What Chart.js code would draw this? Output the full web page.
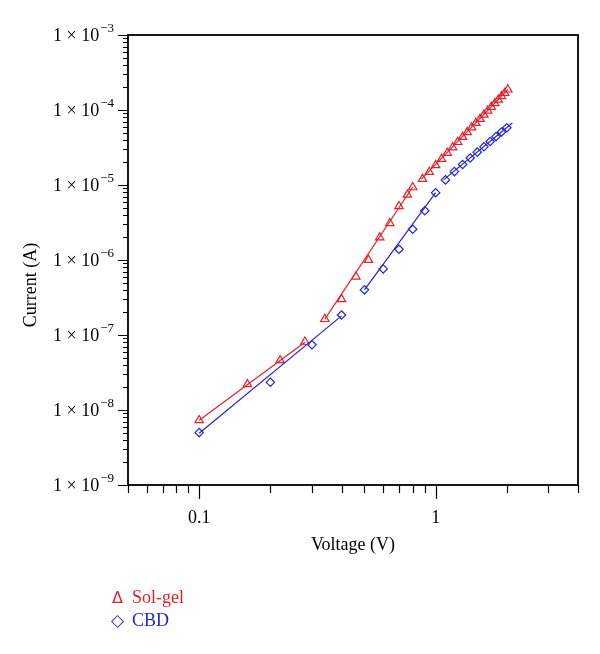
<!DOCTYPE html>
<html>
<head>
<meta charset="utf-8">
<script src="https://cdn.jsdelivr.net/npm/chart.js@4/dist/chart.umd.min.js"></script>
<style>
  html, body { margin: 0; padding: 0; background: #fff; }
  #wrap { position: relative; width: 600px; height: 654px; }
  canvas { position: absolute; left: 0; top: 0; }
  .leg { position: absolute; font-family: "Liberation Serif", "DejaVu Serif", serif; font-size: 18px; line-height: 20px; white-space: nowrap; }
  .leg .mk { display: inline-block; width: 21px; text-align: center; margin-right: 4px; }
</style>
</head>
<body>
<div id="wrap">
  <canvas id="c" width="600" height="654"></canvas>
  <div class="leg" style="left:107px; top:587px; color:#e6202a;"><span class="mk" style="font-family:'DejaVu Sans';font-size:16px;">Δ</span>Sol-gel</div>
  <div class="leg" style="left:107px; top:610px; color:#2424d6;"><span class="mk" style="font-family:'DejaVu Sans';font-size:17px;font-weight:bold;">◇</span>CBD</div>
</div>
<script>
// ---- Data ----
const solgelVoltage = [0.10, 0.16, 0.22, 0.28, 0.34, 0.40, 0.46, 0.52, 0.58, 0.64, 0.70, 0.76, 0.80,
  0.88, 0.94, 1.00, 1.06, 1.12, 1.18, 1.24, 1.30, 1.36, 1.42, 1.48, 1.54, 1.60, 1.66, 1.72, 1.78, 1.84, 1.90, 1.96, 2.02];
const solgelCurrent = [7.3e-9, 2.2e-8, 4.6e-8, 8.1e-8, 1.63e-7, 3.0e-7, 6.0e-7, 1.0e-6, 2.0e-6, 3.1e-6, 5.2e-6, 7.4e-6, 9.3e-6,
  1.2e-5, 1.49e-5, 1.83e-5, 2.22e-5, 2.67e-5, 3.17e-5, 3.73e-5, 4.36e-5, 5.06e-5, 5.84e-5, 6.7e-5, 7.6e-5, 8.65e-5, 9.8e-5, 1.10e-4, 1.23e-4, 1.37e-4, 1.53e-4, 1.69e-4, 1.87e-4];

const cbdVoltage = [0.1, 0.2, 0.3, 0.4, 0.5, 0.6, 0.7, 0.8, 0.9, 1.0, 1.1, 1.2, 1.3, 1.4, 1.5, 1.6, 1.7, 1.8, 1.9, 2.0];
const cbdCurrent = [5.0e-9, 2.34e-8, 7.4e-8, 1.85e-7, 4.0e-7, 7.6e-7, 1.39e-6, 2.57e-6, 4.54e-6, 7.9e-6,
  1.17e-5, 1.51e-5, 1.88e-5, 2.29e-5, 2.74e-5, 3.23e-5, 3.8e-5, 4.42e-5, 5.09e-5, 5.8e-5];

// Fit line segments (start/end voltage and current)
const solgelFitV = [[0.10, 0.28], [0.34, 0.80], [0.87, 2.02]];
const solgelFitI = [[7.3e-9, 8.0e-8], [1.63e-7, 9.4e-6], [1.2e-5, 1.87e-4]];
const cbdFitV = [[0.10, 0.40], [0.50, 1.00], [1.08, 2.11]];
const cbdFitI = [[4.9e-9, 1.8e-7], [4.0e-7, 7.9e-6], [1.17e-5, 6.7e-5]];

// Axis ticks / labels
const xMajorTicks = [0.1, 1];
const xTickLabels = ['0.1', '1'];
const xMinorTicks = [0.05, 0.06, 0.07, 0.08, 0.09, 0.2, 0.3, 0.4, 0.5, 0.6, 0.7, 0.8, 0.9, 2, 3, 4];
const yMajorTicks = [1e-3, 1e-4, 1e-5, 1e-6, 1e-7, 1e-8, 1e-9];
const yTickExponents = ['−3', '−4', '−5', '−6', '−7', '−8', '−9'];
const yMinorMantissas = [2, 3, 4, 5, 6, 7, 8, 9];
const xTitle = 'Voltage (V)';
const yTitle = 'Current (A)';

const RED = '#e6202a';
const BLUE = '#2424d6';
const FONT = '"Liberation Serif", "DejaVu Serif", serif';

function pts(xs, ys) { return xs.map((v, i) => ({ x: v, y: ys[i] })); }

const datasets = [];
solgelFitV.forEach((seg, i) => datasets.push({
  data: pts(seg, solgelFitI[i]), showLine: true, borderColor: RED, borderWidth: 1.2, pointRadius: 0
}));
cbdFitV.forEach((seg, i) => datasets.push({
  data: pts(seg, cbdFitI[i]), showLine: true, borderColor: BLUE, borderWidth: 1.2, pointRadius: 0
}));
datasets.push({
  label: 'Sol-gel', data: pts(solgelVoltage, solgelCurrent), showLine: false,
  pointStyle: 'triangle', pointRadius: 4.8, borderColor: RED, backgroundColor: 'rgba(0,0,0,0)', pointBorderWidth: 1.2
});
datasets.push({
  label: 'CBD', data: pts(cbdVoltage, cbdCurrent), showLine: false,
  pointStyle: 'rectRot', pointRadius: 4.2, borderColor: BLUE, backgroundColor: 'rgba(0,0,0,0)', pointBorderWidth: 1.2
});

const axisDecor = {
  id: 'axisDecor',
  afterDraw(chart) {
    const { ctx, chartArea: a, scales: { x, y } } = chart;
    ctx.save();
    ctx.strokeStyle = '#000';
    ctx.lineWidth = 1.2;
    ctx.beginPath();
    xMinorTicks.forEach(v => {
      const px = Math.round(x.getPixelForValue(v)) + 0.5;
      ctx.moveTo(px, a.bottom); ctx.lineTo(px, a.bottom + 8);
    });
    xMajorTicks.forEach(v => {
      const px = Math.round(x.getPixelForValue(v)) + 0.5;
      ctx.moveTo(px, a.bottom); ctx.lineTo(px, a.bottom + 14);
    });
    yMajorTicks.forEach(v => {
      const py = Math.round(y.getPixelForValue(v)) + 0.5;
      ctx.moveTo(a.left, py); ctx.lineTo(a.left - 10, py);
    });
    yMajorTicks.slice(1).forEach(d => {
      yMinorMantissas.forEach(m => {
        const py = Math.round(y.getPixelForValue(m * d)) + 0.5;
        ctx.moveTo(a.left, py); ctx.lineTo(a.left - 5, py);
      });
    });
    ctx.stroke();
    // frame
    ctx.lineWidth = 1.8;
    ctx.strokeRect(a.left, a.top, a.right - a.left, a.bottom - a.top);

    ctx.fillStyle = '#000';
    // x tick labels
    ctx.font = '18px ' + FONT;
    ctx.textAlign = 'center';
    ctx.textBaseline = 'middle';
    xMajorTicks.forEach((v, i) => {
      ctx.fillText(xTickLabels[i], x.getPixelForValue(v), a.bottom + 33);
    });
    // y tick labels with superscripts
    yMajorTicks.forEach((v, i) => {
      const py = y.getPixelForValue(v);
      ctx.font = '13px ' + FONT;
      const ew = ctx.measureText(yTickExponents[i]).width;
      const right = a.left - 14;
      ctx.textAlign = 'left';
      ctx.textBaseline = 'middle';
      ctx.fillText(yTickExponents[i], right - ew, py - 6);
      ctx.font = '18px ' + FONT;
      ctx.textAlign = 'right';
      ctx.fillText('1 × 10', right - ew - 1, py + 1);
    });
    // axis titles
    ctx.font = '18px ' + FONT;
    ctx.textAlign = 'center';
    ctx.textBaseline = 'middle';
    ctx.fillText(xTitle, (a.left + a.right) / 2, 545);
    ctx.save();
    ctx.translate(31, 285);
    ctx.rotate(-Math.PI / 2);
    ctx.fillText(yTitle, 0, 0);
    ctx.restore();
    ctx.restore();
  }
};

new Chart(document.getElementById('c'), {
  type: 'scatter',
  data: { datasets },
  options: {
    responsive: false,
    animation: false,
    layout: { padding: { left: 0, top: 35, right: 22, bottom: 0 } },
    plugins: { legend: { display: false }, tooltip: { enabled: false } },
    scales: {
      x: {
        type: 'logarithmic', min: 0.05, max: 4,
        grid: { display: false }, border: { display: false },
        ticks: { display: false },
        afterFit(s) { s.height = 169; }
      },
      y: {
        type: 'logarithmic', min: 1e-9, max: 1e-3,
        grid: { display: false }, border: { display: false },
        ticks: { display: false },
        afterFit(s) { s.width = 128; }
      }
    }
  },
  plugins: [axisDecor]
});
</script>
</body>
</html>
